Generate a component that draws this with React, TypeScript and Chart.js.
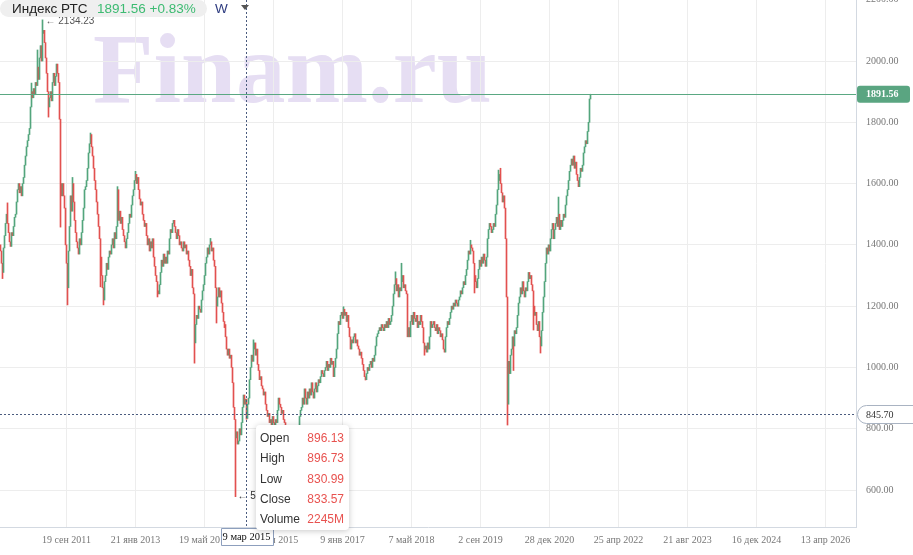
import React, { useEffect, useRef } from "react";
import { Chart, registerables } from "chart.js";

Chart.register(...registerables);

// ---------------- data (weekly candles) ----------------
const firstOpen = 1400;
const closes2010 = [1380,1340,1310,1390,1430,1470,1500,1470,1440,1410,1395,1440,1430,1460,1490,1500,1540,1580,1600,1570,1590,1560,1600,1620,1660,1690,1720,1740,1760,1780];
const closes2011 = [1850,1900,1880,1910,1890,1930,1920,1980,1940,2010,2050,2000,2090,2100,2060,2010,1960,1900,1850,1880,1900,1870,1930,1960,1920,1950,1990,1960,1930,1810,1600,1560,1600,1560,1520,1400,1340,1260,1380,1460,1560,1510,1600,1540,1480,1440,1410,1390,1370,1420,1400,1440];
const closes2012 = [1480,1520,1580,1590,1610,1650,1700,1730,1760,1720,1690,1650,1610,1580,1540,1500,1460,1420,1360,1300,1260,1220,1280,1300,1340,1320,1360,1380,1370,1400,1420,1390,1440,1420,1460,1580,1480,1510,1470,1490,1450,1430,1410,1390,1420,1440,1470,1500,1490,1530,1560,1580,1610];
const closes2013 = [1630,1600,1620,1580,1550,1530,1540,1500,1480,1460,1470,1430,1400,1420,1380,1410,1390,1420,1360,1330,1300,1280,1250,1240,1270,1310,1350,1330,1370,1340,1360,1340,1380,1370,1420,1450,1440,1470,1480,1460,1440,1420,1450,1430,1400,1410,1390,1380,1410,1390,1400,1370];
const closes2014 = [1380,1350,1330,1300,1320,1260,1240,1080,1140,1170,1160,1200,1190,1180,1220,1250,1270,1300,1340,1360,1390,1370,1400,1410,1380,1390,1350,1330,1260,1200,1230,1260,1230,1250,1210,1180,1150,1140,1100,1060,1040,1060,1030,1040,1000,950,870,830,770,790,750,760];
const closes2015 = [800,780,820,870,910,880,896.13,833.57,880,900,960,1000,1040,1020,1060,1080,1040,1060,1010,990,960,970,940,930,910,920,880,860,840,850,820,830,810,840,820,800,830,820,860,900,880,870,850,860,830,820,800,780,770,760,750,720];
const closes2016 = [680,640,660,700,720,740,760,800,840,860,870,900,880,930,900,880,920,900,930,910,950,920,900,930,950,920,940,960,950,970,990,980,970,990,1000,1020,990,1010,1000,1030,1010,1020,970,1000,1030,1060,1110,1150,1140,1170,1180,1160];
const closes2017 = [1190,1170,1180,1150,1170,1130,1100,1060,1090,1080,1100,1110,1080,1090,1070,1060,1040,1050,1030,1010,990,970,960,980,1000,990,1010,1020,1000,1030,1020,1040,1070,1100,1110,1120,1130,1120,1140,1130,1120,1140,1130,1150,1130,1160,1140,1150,1170,1200,1240,1270];
const closes2018 = [1290,1250,1270,1230,1260,1250,1280,1300,1260,1270,1250,1240,1100,1130,1100,1150,1170,1140,1180,1160,1150,1170,1130,1150,1140,1170,1150,1130,1080,1060,1070,1050,1080,1060,1100,1150,1130,1140,1150,1130,1120,1140,1110,1130,1120,1100,1110,1090,1060,1050,1100,1130,1150];
const closes2019 = [1140,1160,1180,1200,1190,1210,1200,1220,1210,1200,1220,1230,1250,1240,1260,1280,1270,1300,1320,1350,1380,1370,1400,1390,1380,1340,1300,1280,1260,1290,1320,1350,1330,1360,1340,1370,1350,1330,1360,1420,1450,1470,1460,1440,1450,1470,1460,1500,1530,1580,1610,1630];
const closes2020 = [1600,1570,1540,1560,1520,1420,1230,880,1020,980,1040,1060,1100,1070,1120,1110,1130,1170,1210,1230,1260,1240,1280,1250,1230,1260,1250,1280,1310,1290,1300,1270,1250,1200,1170,1180,1140,1120,1150,1100,1070,1120,1180,1230,1280,1340,1390,1370,1400,1380,1420,1450];
const closes2021 = [1470,1420,1450,1470,1490,1460,1500,1450,1480,1460,1480,1500,1490,1530,1560,1580,1610,1640,1660,1680,1660,1690,1650,1670,1630,1610,1590,1620,1650,1640,1660,1700,1720,1740,1730,1770,1800,1876,1891.56];

// wick extremes (candle index, value)
const wickHighIndex = [7, 31, 37, 42, 72, 90, 117, 135, 210, 246, 253, 343, 395, 401, 470, 498, 500, 558];
const wickHighValue = [1537, 1928, 2036, 2134.23, 1620, 1765, 1590, 1640, 1421, 896.73, 1090, 1198, 1312, 1340, 1415, 1644, 1650, 1556];
const wickLowIndex = [2, 48, 60, 67, 100, 103, 157, 194, 216, 224, 235, 246, 292, 365, 424, 474, 507, 513, 533, 540];
const wickLowValue = [1290, 1817, 1458, 1204, 1263, 1204, 1230, 1014, 1145, 1130, 578.31, 830.99, 628, 959, 1040, 1243, 812, 990, 1122, 1047];

const xTickPositions = [66, 135, 204, 273, 342, 411, 480, 549, 618, 687, 756, 825];
const xTickLabels = ["19 сен 2011", "21 янв 2013", "19 май 2014", "14 сен 2015", "9 янв 2017", "7 май 2018", "2 сен 2019", "28 дек 2020", "25 апр 2022", "21 авг 2023", "16 дек 2024", "13 апр 2026"];
const yTickValues = [600, 800, 1000, 1200, 1400, 1600, 1800, 2000, 2200];

const instrumentName = "Индекс РТС";
const lastPrice = 1891.56;
const changeText = "+0.83%";
const intervalText = "W";
const cursorIndex = 246;
const cursorDate = "9 мар 2015";
const cursorPrice = 845.7;
const tooltipLabels = ["Open", "High", "Low", "Close", "Volume"];
const tooltipValues = ["896.13", "896.73", "830.99", "833.57", "2245M"];
const maxMarkIndex = 42;
const maxMarkValue = 2134.23;
const minMarkIndex = 235;
const minMarkValue = 578.31;
const watermarkText = "Finam.ru";

// ---------------- styles ----------------
const GREEN = "#53a57c";
const RED = "#e2514f";
const GRID = "#ededed";
const AXIS = "#d3d9e1";
const CROSS = "#4a5b7e";
const SERIF = '"Liberation Serif", "Times New Roman", serif';
const SANS = '"Liberation Sans", Arial, sans-serif';

const overlayPlugin = {
  id: "overlay",
  beforeDraw(chart: any) {
    const { ctx } = chart;
    ctx.save();
    ctx.font = `bold 99px ${SERIF}`;
    ctx.fillStyle = "#e6def3";
    ctx.textBaseline = "alphabetic";
    ctx.fillText(watermarkText, 93, 102);
    ctx.restore();
  },
  afterDatasetsDraw(chart: any) {
    const { ctx, chartArea } = chart;
    const xs = chart.scales.x;
    const ys = chart.scales.y;
    ctx.save();
    const ly = Math.floor(ys.getPixelForValue(lastPrice)) + 0.5;
    ctx.strokeStyle = "#5aa882";
    ctx.lineWidth = 1;
    ctx.beginPath();
    ctx.moveTo(chartArea.left, ly);
    ctx.lineTo(chartArea.right, ly);
    ctx.stroke();
    const cx = Math.floor(xs.getPixelForValue(cursorIndex)) + 0.5;
    const cy = Math.floor(ys.getPixelForValue(cursorPrice)) + 0.5;
    ctx.strokeStyle = CROSS;
    ctx.setLineDash([2, 2]);
    ctx.beginPath();
    ctx.moveTo(cx, 0);
    ctx.lineTo(cx, chartArea.bottom + 3);
    ctx.stroke();
    ctx.beginPath();
    ctx.moveTo(chartArea.left, cy);
    ctx.lineTo(chartArea.right, cy);
    ctx.stroke();
    ctx.setLineDash([]);
    ctx.font = `10px ${SANS}`;
    ctx.fillStyle = "#555";
    ctx.textBaseline = "middle";
    ctx.fillText("← " + maxMarkValue.toFixed(2), xs.getPixelForValue(maxMarkIndex) + 3, ys.getPixelForValue(maxMarkValue) + 1);
    ctx.fillStyle = "#333";
    ctx.fillText("← " + minMarkValue.toFixed(2), xs.getPixelForValue(minMarkIndex) + 2, ys.getPixelForValue(minMarkValue));
    ctx.restore();
  },
  afterDraw(chart: any) {
    const { ctx, chartArea } = chart;
    const xs = chart.scales.x;
    const ys = chart.scales.y;
    ctx.save();
    const py = ys.getPixelForValue(lastPrice);
    ctx.fillStyle = "#5aa581";
    ctx.beginPath();
    ctx.roundRect(chartArea.right + 1, py - 8.5, 53, 17, 3);
    ctx.fill();
    ctx.fillStyle = "#ffffff";
    ctx.font = `bold 10px ${SERIF}`;
    ctx.textBaseline = "middle";
    ctx.fillText(lastPrice.toFixed(2), chartArea.right + 10, py + 0.5);
    const cy = Math.floor(ys.getPixelForValue(cursorPrice)) + 0.5;
    ctx.fillStyle = "#ffffff";
    ctx.strokeStyle = "#a9b3c2";
    ctx.beginPath();
    ctx.roundRect(chartArea.right + 1.5, cy - 9, 70, 18, [9, 0, 0, 9]);
    ctx.fill();
    ctx.stroke();
    ctx.fillStyle = "#333";
    ctx.font = `10px ${SERIF}`;
    ctx.fillText(cursorPrice.toFixed(2), chartArea.right + 10, cy + 0.5);
    const cx = Math.floor(xs.getPixelForValue(cursorIndex)) + 0.5;
    ctx.font = `10.5px ${SERIF}`;
    const tw = ctx.measureText(cursorDate).width;
    const bw = Math.round(tw + 4);
    ctx.fillStyle = "#ffffff";
    ctx.strokeStyle = "#8d9fbd";
    ctx.beginPath();
    ctx.rect(Math.round(cx - bw / 2) + 0.5, chartArea.bottom + 1.5, bw, 17);
    ctx.fill();
    ctx.stroke();
    ctx.fillStyle = "#111";
    ctx.textAlign = "center";
    ctx.fillText(cursorDate, cx, chartArea.bottom + 10.5);
    ctx.restore();
  },
};

export default function App() {
  const canvasRef = useRef<HTMLCanvasElement | null>(null);

  useEffect(() => {
    const closes = [
      ...closes2010, ...closes2011, ...closes2012, ...closes2013, ...closes2014, ...closes2015,
      ...closes2016, ...closes2017, ...closes2018, ...closes2019, ...closes2020, ...closes2021,
    ];
    const opens = closes.map((c, i) => (i === 0 ? firstOpen : closes[i - 1]));
    const highs = closes.map((c, i) => Math.max(c, opens[i]));
    const lows = closes.map((c, i) => Math.min(c, opens[i]));
    wickHighIndex.forEach((idx, k) => { highs[idx] = Math.max(highs[idx], wickHighValue[k]); });
    wickLowIndex.forEach((idx, k) => { lows[idx] = Math.min(lows[idx], wickLowValue[k]); });
    const data = closes.map((c, i) => ({ x: i, y: [lows[i], highs[i]] }));
    const colors = closes.map((c, i) => (c >= opens[i] ? GREEN : RED));

    const chart = new Chart(canvasRef.current as HTMLCanvasElement, {
      type: "bar",
      data: {
        datasets: [
          {
            data: data as any,
            backgroundColor: colors,
            borderWidth: 0,
            barThickness: 1,
            minBarLength: 1,
          },
        ],
      },
      options: {
        animation: false,
        responsive: true,
        maintainAspectRatio: false,
        events: [],
        layout: { padding: 0 },
        plugins: { legend: { display: false }, tooltip: { enabled: false } },
        scales: {
          x: {
            type: "linear",
            position: "bottom",
            min: -0.5,
            max: 855.5,
            offset: false,
            grid: { color: GRID, drawTicks: false, offset: false },
            border: { color: AXIS },
            ticks: {
              autoSkip: false,
              maxRotation: 0,
              padding: 7,
              color: "#777",
              font: { family: SERIF, size: 10 },
              callback: (_v: any, i: number) => xTickLabels[i],
            },
            afterBuildTicks: (s: any) => {
              s.ticks = xTickPositions.map((v) => ({ value: v }));
            },
            afterFit: (s: any) => {
              s.height = 28;
              s.paddingLeft = 0;
              s.paddingRight = 0;
            },
          },
          y: {
            type: "linear",
            position: "right",
            min: 479.3,
            max: 2199.1,
            grid: { color: GRID, drawTicks: false },
            border: { color: AXIS },
            ticks: {
              autoSkip: false,
              padding: 10,
              color: "#777",
              font: { family: SERIF, size: 10 },
              callback: (v: any) => Number(v).toFixed(2),
            },
            afterBuildTicks: (s: any) => {
              s.ticks = yTickValues.map((v) => ({ value: v }));
            },
            afterFit: (s: any) => {
              s.width = 57;
              s.paddingTop = 0;
              s.paddingBottom = 0;
            },
          },
        },
      } as any,
      plugins: [overlayPlugin],
    });
    return () => chart.destroy();
  }, []);

  return (
    <div style={{ position: "fixed", left: 0, top: 0, width: 913, height: 555, background: "#fff", overflow: "hidden" }}>
      <canvas ref={canvasRef} />
      <div style={{ position: "absolute", left: 0, top: 0, width: 207, height: 17, background: "#efefef", borderRadius: 9 }} />
      <div style={{ position: "absolute", left: 12, top: 0, height: 17, lineHeight: "17px", fontFamily: SANS, fontSize: 13.5, color: "#222", whiteSpace: "nowrap" }}>
        {instrumentName}
      </div>
      <div style={{ position: "absolute", left: 97, top: 0, height: 17, lineHeight: "17px", fontFamily: SANS, fontSize: 13.5, color: "#3dbb72", whiteSpace: "nowrap" }}>
        {lastPrice.toFixed(2)} {changeText}
      </div>
      <div style={{ position: "absolute", left: 215, top: 0, height: 17, lineHeight: "17px", fontFamily: SANS, fontSize: 13.5, color: "#2d3b7f" }}>
        {intervalText}
      </div>
      <div style={{ position: "absolute", left: 241, top: 5, width: 0, height: 0, borderLeft: "4px solid transparent", borderRight: "4px solid transparent", borderTop: "5px solid #555" }} />
      <div style={{ position: "absolute", left: 256, top: 425, width: 93, height: 105, background: "#fff", borderRadius: 4, boxShadow: "0 1px 6px rgba(0,0,0,0.22)", fontFamily: SANS, fontSize: 12 }}>
        {tooltipLabels.map((lab, k) => (
          <div key={lab} style={{ position: "absolute", left: 4, right: 5, top: 3.2 + k * 20.2, height: 20.2, lineHeight: "20.2px" }}>
            <span style={{ color: "#333" }}>{lab}</span>
            <span style={{ position: "absolute", right: 0, color: "#e8524f" }}>{tooltipValues[k]}</span>
          </div>
        ))}
      </div>
    </div>
  );
}
